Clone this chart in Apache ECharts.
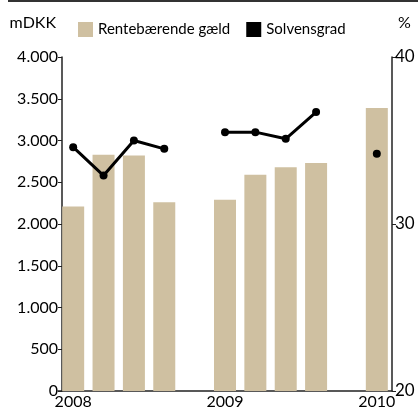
<!DOCTYPE html>
<html>
<head>
<meta charset="utf-8">
<script src="https://cdn.jsdelivr.net/npm/echarts@6/dist/echarts.min.js"></script>
<style>
html, body { margin: 0; padding: 0; background: #fff; }
#chart { width: 418px; height: 410px; }
</style>
</head>
<body>
<div id="chart"></div>
<script>
// kvartaler 2008 - 2010 (tomme pladser mellem aarene)
var categories = ['2008', '', '', '', '', '2009', '', '', '', '', '2010'];
var gaeld = [2210, 2830, 2820, 2260, null, 2290, 2590, 2680, 2730, null, 3390];
var solvens = [34.6, 32.9, 35.0, 34.5, null, 35.5, 35.5, 35.1, 36.7, null, 34.2];

var font = 'Lato';
var txt = { color: '#000', fontFamily: font, fontSize: 15 };

function tusind(v) {
    return String(v).replace(/\B(?=(\d{3})+(?!\d))/g, '.');
}

var chart = echarts.init(document.getElementById('chart'));
chart.setOption({
    animation: false,
    textStyle: { fontFamily: font },
    graphic: [
        { type: 'rect', shape: { x: 8, y: 0, width: 410, height: 2 }, style: { fill: '#333' } }
    ],
    legend: {
        left: 73, top: 17,
        itemWidth: 15, itemHeight: 15, itemGap: 16,
        textStyle: txt,
        data: [
            { name: 'Rentebærende gæld', icon: 'rect' },
            { name: 'Solvensgrad', icon: 'rect' }
        ]
    },
    grid: { left: 58, right: 26, top: 57, bottom: 18 },
    xAxis: {
        type: 'category',
        data: categories,
        axisLine: { lineStyle: { color: '#222', width: 1.5 } },
        axisTick: { inside: true, length: 7, interval: 0, lineStyle: { color: '#222' } },
        axisLabel: { interval: 0, margin: 3, color: '#000', fontFamily: font, fontSize: 16 }
    },
    yAxis: [{
        type: 'value', min: 0, max: 4000, interval: 500,
        offset: -4,
        name: 'mDKK', nameLocation: 'end', nameGap: 26,
        nameTextStyle: { color: '#000', fontFamily: font, fontSize: 16, align: 'right', padding: [0, 6, 0, 0] },
        axisLine: { show: true, lineStyle: { color: '#222', width: 1.5 } },
        axisTick: { show: true, length: 4, lineStyle: { color: '#222' } },
        axisLabel: { margin: 4, color: '#000', fontFamily: font, fontSize: 16, formatter: tusind },
        splitLine: { show: false }
    }, {
        type: 'value', min: 20, max: 40, interval: 10, position: 'right',
        name: '%', nameLocation: 'end', nameGap: 26,
        nameTextStyle: { color: '#000', fontFamily: font, fontSize: 16, align: 'left', padding: [0, 0, 0, 6] },
        axisLine: { show: true, lineStyle: { color: '#222', width: 1.5 } },
        axisTick: { show: true, length: 4, lineStyle: { color: '#222' } },
        axisLabel: { margin: 3, color: '#000', fontFamily: font, fontSize: 17 },
        splitLine: { show: false }
    }],
    series: [{
        name: 'Rentebærende gæld',
        type: 'bar',
        data: gaeld,
        barWidth: 22,
        itemStyle: { color: '#CFC0A1' }
    }, {
        name: 'Solvensgrad',
        type: 'line',
        yAxisIndex: 1,
        data: solvens,
        connectNulls: false,
        symbol: 'circle',
        symbolSize: 8,
        showAllSymbol: true,
        itemStyle: { color: '#000' },
        lineStyle: { color: '#000', width: 3 },
        z: 5
    }]
});
</script>
</body>
</html>
